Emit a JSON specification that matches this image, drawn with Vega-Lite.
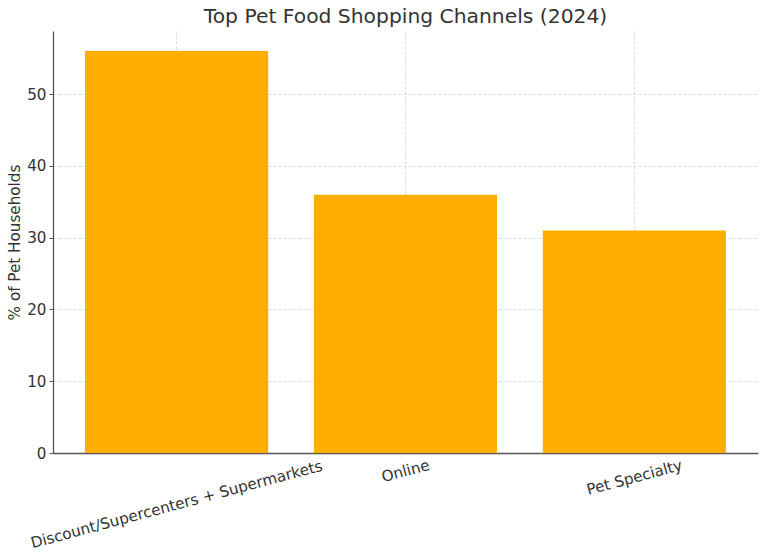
{
  "$schema": "https://vega.github.io/schema/vega-lite/v6.json",
  "description": "Top pet food shopping channels, share of pet households (2024)",
  "width": 705,
  "height": 422,
  "autosize": "none",
  "padding": {"left": 53, "top": 31, "right": 10, "bottom": 106},
  "background": "white",
  "config": {
    "font": "DejaVu Sans",
    "view": {"stroke": null},
    "axis": {
      "domainColor": "#555555",
      "domainWidth": 1.3,
      "labelColor": "#333333",
      "labelFont": "DejaVu Sans",
      "labelFontSize": 15.2,
      "labelLimit": 0,
      "titleColor": "#333333",
      "titleFont": "DejaVu Sans",
      "titleFontSize": 15.2,
      "titleFontWeight": "normal",
      "gridColor": "#999999",
      "gridOpacity": 0.45,
      "gridDash": [3, 2],
      "gridWidth": 0.8,
      "tickColor": "#555555",
      "zindex": 1
    }
  },
  "title": {
    "text": "Top Pet Food Shopping Channels (2024)",
    "font": "DejaVu Sans",
    "fontSize": 20.3,
    "fontWeight": "normal",
    "color": "#333333",
    "anchor": "middle",
    "offset": 4
  },
  "data": {
    "values": [
      {"channel": "Discount/Supercenters + Supermarkets", "share": 56},
      {"channel": "Online", "share": 36},
      {"channel": "Pet Specialty", "share": 31}
    ]
  },
  "mark": {"type": "bar", "color": "#FFAD00"},
  "encoding": {
    "x": {
      "field": "channel",
      "type": "nominal",
      "sort": null,
      "scale": {"paddingInner": 0.2, "paddingOuter": 0.14},
      "axis": {
        "title": null,
        "grid": true,
        "bandPosition": 0.5,
        "ticks": false,
        "labelAngle": 345,
        "labelAlign": "center",
        "labelBaseline": "middle",
        "labelPadding": {
          "condition": [
            {"test": "datum.label == 'Online'", "value": 17.5},
            {"test": "datum.label == 'Pet Specialty'", "value": 24}
          ],
          "value": 51
        }
      }
    },
    "y": {
      "field": "share",
      "type": "quantitative",
      "scale": {"domain": [0, 58.8], "nice": false, "zero": true},
      "axis": {
        "title": "% of Pet Households",
        "values": [0, 10, 20, 30, 40, 50],
        "tickSize": 4,
        "labelPadding": 3,
        "titlePadding": 4
      }
    }
  }
}
